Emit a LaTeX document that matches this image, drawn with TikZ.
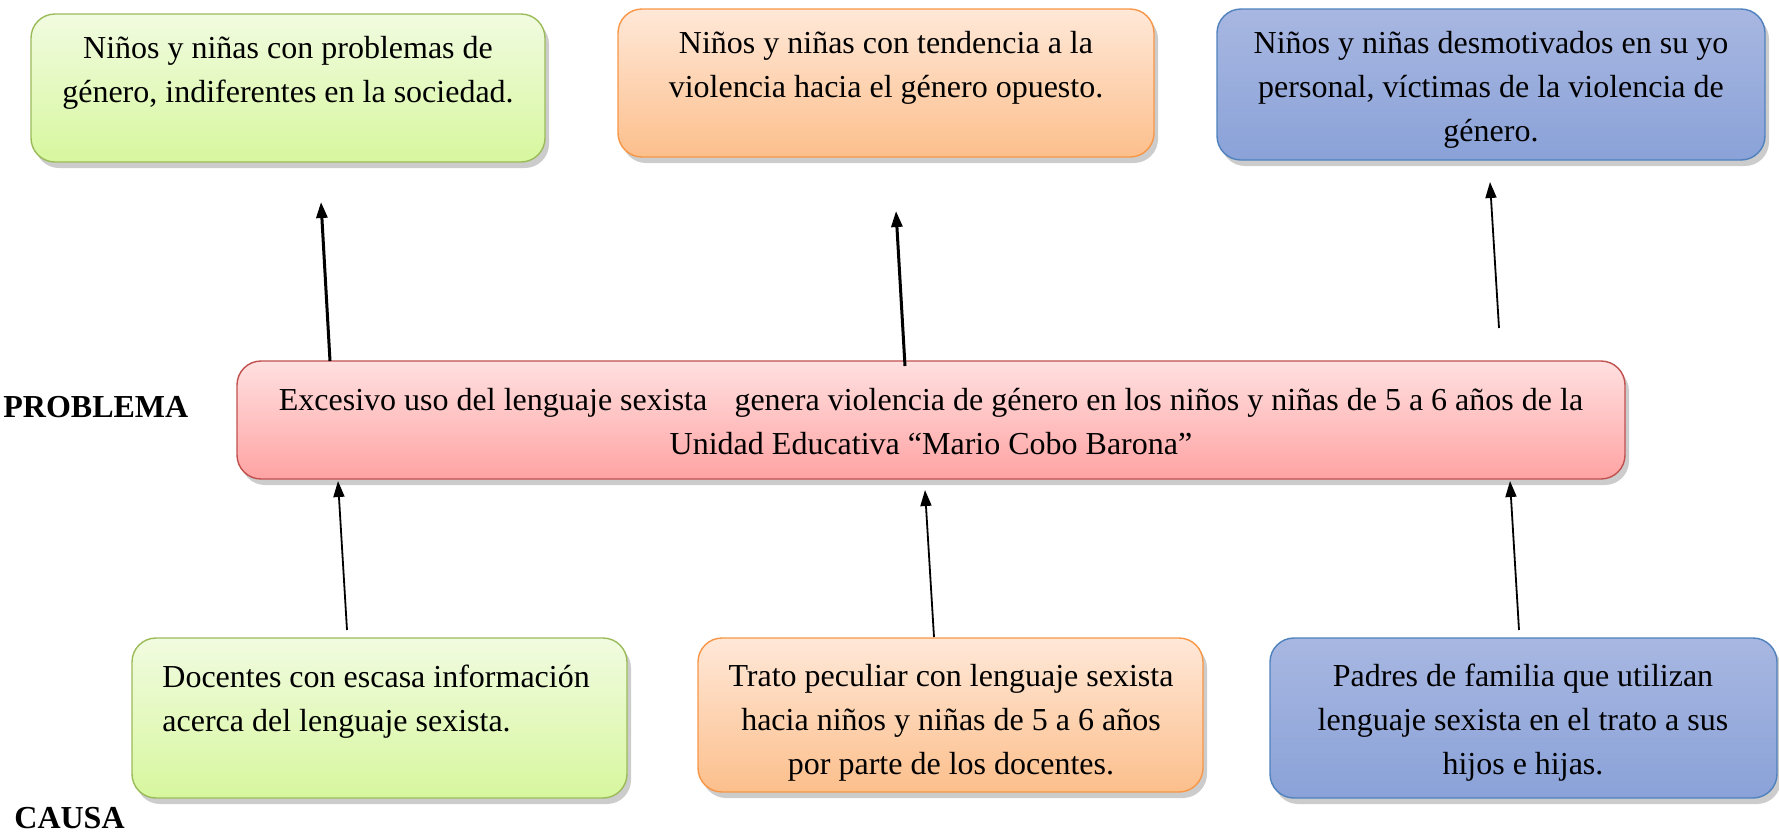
\documentclass[tikz,border=0pt]{standalone}
\usepackage{fontspec}
\setmainfont{Liberation Serif}
\usetikzlibrary{arrows.meta,shadows}
\definecolor{gA}{HTML}{F1FBE0}
\definecolor{gB}{HTML}{D7F79E}
\definecolor{gD}{HTML}{9BBB59}
\definecolor{oA}{HTML}{FFE8D8}
\definecolor{oB}{HTML}{FCBF8C}
\definecolor{oD}{HTML}{F79646}
\definecolor{bA}{HTML}{A8B7E1}
\definecolor{bB}{HTML}{8AA2D8}
\definecolor{bD}{HTML}{4F81BD}
\definecolor{rA}{HTML}{FFE0E0}
\definecolor{rB}{HTML}{FFA3A3}
\definecolor{rD}{HTML}{C0504D}
\tikzset{
  box/.style={rectangle, rounded corners=12pt, line width=0.7pt,
    drop shadow={opacity=0.4, shadow xshift=2pt, shadow yshift=-3pt}},
  gbox/.style={box, draw=gD, top color=gA, bottom color=gB},
  obox/.style={box, draw=oD, top color=oA, bottom color=oB},
  bbox/.style={box, draw=bD, top color=bA, bottom color=bB},
  rbox/.style={box, draw=rD, top color=rA, bottom color=rB},
  txt/.style={font=\fontsize{16}{22}\selectfont, align=center, inner sep=0pt},
  ltxt/.style={font=\fontsize{16}{22}\selectfont, align=left, inner sep=0pt},
  lab/.style={font=\fontsize{16}{18}\selectfont\bfseries, inner sep=0pt},
  thickarr/.style={line width=1.5pt, -{Triangle[length=8pt,width=5.5pt]}},
  thinarr/.style={line width=0.9pt, -{Triangle[length=8pt,width=5.5pt]}},
}
\begin{document}
\begin{tikzpicture}[x=0.5pt,y=-0.5pt]
\useasboundingbox (0,0) rectangle (1779,832);
% boxes
\node (e1) [gbox, minimum width=257pt, minimum height=74pt] at (288,88) {};
\node (e2) [obox, minimum width=268pt, minimum height=74pt] at (886,83) {};
\node (e3) [bbox, minimum width=274pt, minimum height=75.5pt] at (1491,84.5) {};
\node (p)  [rbox, minimum width=694pt, minimum height=59pt] at (931,420) {};
\node (c1) [gbox, minimum width=247.5pt, minimum height=80pt] at (379.5,718) {};
\node (c2) [obox, minimum width=252.5pt, minimum height=77pt] at (950.5,715) {};
\node (c3) [bbox, minimum width=253.5pt, minimum height=80pt] at (1523.5,718) {};
% texts
\node (t1) [txt, anchor=north] at (288,36) {Niños y niñas con problemas de\\género, indiferentes en la sociedad.};
\node (t2) [txt, anchor=north] at (886,31) {Niños y niñas con tendencia a la\\violencia hacia el género opuesto.};
\node (t3) [txt, anchor=north] at (1491,31) {Niños y niñas desmotivados en su yo\\personal, víctimas de la violencia de\\género.};
\node (tp) [txt, anchor=north] at (931,388) {Excesivo uso del lenguaje sexista\hspace{0.6em} genera violencia de género en los niños y niñas de 5 a 6 años de la\\Unidad Educativa “Mario Cobo Barona”};
\node (u1) [ltxt, anchor=north west] at (162,665) {Docentes con escasa información\\acerca del lenguaje sexista.};
\node (u2) [txt, anchor=north] at (951,664) {Trato peculiar con lenguaje sexista\\hacia niños y niñas de 5 a 6 años\\por parte de los docentes.};
\node (u3) [txt, anchor=north] at (1523,664) {Padres de familia que utilizan\\lenguaje sexista en el trato a sus\\hijos e hijas.};
% labels
\node (lp) [lab, anchor=west] at (3,407) {PROBLEMA};
\node (lc) [lab, anchor=west] at (14,818) {CAUSA};
% arrow ends
\coordinate (a1s) at (330,361);
\coordinate (a1e) at (321,202);
\coordinate (a2s) at (905,366);
\coordinate (a2e) at (896,211);
\coordinate (a3s) at (1499,328);
\coordinate (a3e) at (1490,182);
\coordinate (b1s) at (347,630);
\coordinate (b1e) at (338,481);
\coordinate (b2s) at (934,637);
\coordinate (b2e) at (925,490);
\coordinate (b3s) at (1519,630);
\coordinate (b3e) at (1510,481);
\draw[thickarr] (a1s) -- (a1e);
\draw[thickarr] (a2s) -- (a2e);
\draw[thinarr] (a3s) -- (a3e);
\draw[thinarr] (b1s) -- (b1e);
\draw[thinarr] (b2s) -- (b2e);
\draw[thinarr] (b3s) -- (b3e);
\end{tikzpicture}
\end{document}
